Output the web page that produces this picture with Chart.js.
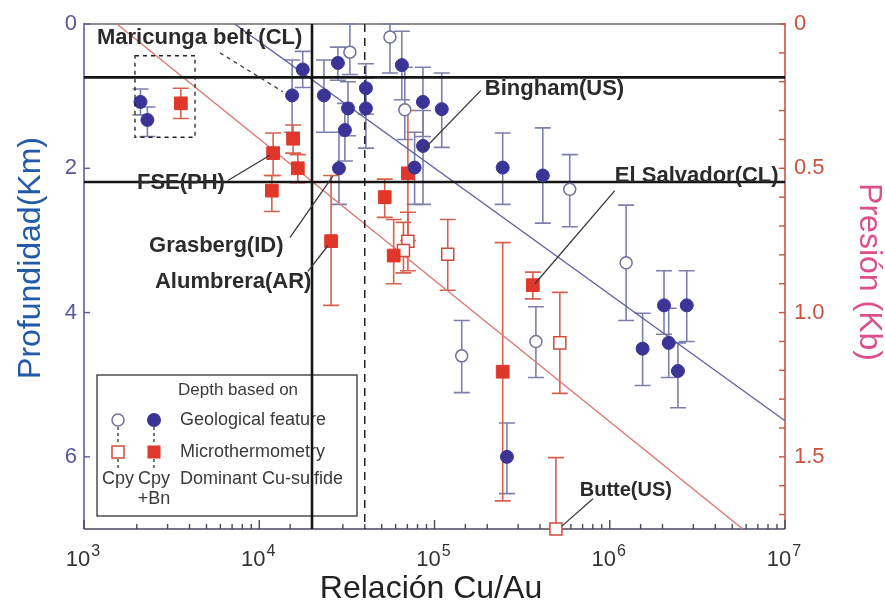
<!DOCTYPE html>
<html><head><meta charset="utf-8">
<script src="https://cdn.jsdelivr.net/npm/chart.js@4.4.1/dist/chart.umd.min.js"></script>
<style>html,body{margin:0;padding:0;background:#fff;}canvas{display:block;}</style>
</head><body>
<canvas id="c" width="885" height="608"></canvas>
<script>
// ---- Data (Relación Cu/Au, profundidad km, error low, error high) ----
const geoBnRatio = [2100, 2300, 17700, 15400, 23400, 28100, 32100, 30800, 28500, 40600, 40600, 65100, 85900, 110000, 86000, 77000, 245000, 415000, 2040000, 2750000, 2170000, 1540000, 2450000, 259000];
const geoBnDepth = [1.08, 1.33, 0.63, 0.99, 0.99, 0.54, 1.17, 1.47, 2.00, 0.89, 1.17, 0.57, 1.08, 1.18, 1.69, 1.99, 1.99, 2.10, 3.90, 3.90, 4.42, 4.50, 4.81, 6.00];
const geoBnLow   = [0.90, 1.15, 0.38, 0.50, 0.50, 0.32, 0.80, 1.10, 1.50, 0.55, 0.75, 0.10, 0.60, 0.68, 1.20, 1.50, 1.51, 1.44, 3.42, 3.42, 3.94, 4.01, 4.42, 5.53];
const geoBnHigh  = [1.26, 1.56, 0.88, 1.50, 1.50, 0.78, 1.55, 1.90, 2.50, 1.25, 1.72, 1.05, 1.56, 1.71, 2.50, 2.50, 2.50, 2.76, 4.30, 4.40, 4.90, 5.01, 5.32, 6.51];

const geoCpyRatio = [32900, 55700, 67700, 591000, 1240000, 143000, 379000];
const geoCpyDepth = [0.39, 0.18, 1.19, 2.29, 3.31, 4.60, 4.40];
const geoCpyLow   = [0.00, 0.00, 0.60, 1.81, 2.51, 4.11, 3.92];
const geoCpyHigh  = [0.70, 0.68, 1.60, 2.81, 4.11, 5.11, 4.90];

const microBnRatio = [3570, 15600, 16600, 12000, 11800, 25700, 52000, 58500, 70500, 364000, 245000];
const microBnDepth = [1.10, 1.59, 2.00, 1.79, 2.31, 3.01, 2.40, 3.21, 2.07, 3.62, 4.82];
const microBnLow   = [0.89, 1.40, 1.81, 1.51, 2.10, 2.10, 2.15, 2.71, 1.20, 3.44, 3.03];
const microBnHigh  = [1.31, 1.79, 2.20, 2.10, 2.60, 3.90, 2.68, 3.60, 3.00, 3.81, 6.61];

const microCpyRatio = [70500, 66500, 119000, 519000, 493000];
const microCpyDepth = [3.01, 3.14, 3.19, 4.42, 7.00];
const microCpyLow   = [2.61, 2.75, 2.71, 3.72, 6.01];
const microCpyHigh  = [3.42, 3.45, 3.69, 5.12, 7.00];

// Trend lines and reference lines
const blueFitRatio = [7240, 10000000];
const blueFitDepth = [0, 5.5];
const redFitRatio = [1540, 5740000];
const redFitDepth = [0, 7];
const refDepths = [0.74, 2.19];
const refSolidRatio = 20000;
const refDashedRatio = 40000;

// Ticks
const ratioTickValues = [1e3, 1e4, 1e5, 1e6, 1e7];
const ratioTickBase = '10';
const ratioTickExponents = ['3', '4', '5', '6', '7'];
const depthTickValues = [0, 2, 4, 6];
const depthTickLabels = ['0', '2', '4', '6'];
const pressureTickValues = [0, 0.1, 0.2, 0.3, 0.4, 0.5, 0.6, 0.7, 0.8, 0.9, 1.0, 1.1, 1.2, 1.3, 1.4, 1.5, 1.6, 1.7];
const pressureLabelValues = [0, 0.5, 1.0, 1.5];
const pressureTickLabels = ['0', '0.5', '1.0', '1.5'];

// Annotations
const noteTexts = ['Maricunga belt (CL)', 'Bingham(US)', 'FSE(PH)', 'Grasberg(ID)', 'Alumbrera(AR)', 'El Salvador(CL)', 'Butte(US)'];
const noteRatio = [1186, 193800, 2005, 2350, 2540, 1069000, 674000];
const noteDepth = [0.19, 0.90, 2.21, 3.07, 3.58, 2.11, 6.47];
const leaderFromRatio = [5970, 184000, 6620, 14960, 18970, 1069000, 802000];
const leaderFromDepth = [0.40, 0.92, 2.17, 2.96, 3.43, 2.31, 6.58];
const leaderToRatio = [13650, 85900, 11500, 26300, 24680, 374000, 533000];
const leaderToDepth = [0.94, 1.75, 1.82, 2.11, 3.07, 3.60, 6.96];
const boxRatio = [1954, 4300];
const boxDepth = [0.44, 1.57];

// ---- helpers ----
const FONT = "'Liberation Sans', Arial, sans-serif";
function pts(xs, ys, lo, hi) { return xs.map((v, i) => ({ x: v, y: ys[i], lo: lo[i], hi: hi[i] })); }
function line(xs, ys) { return xs.map((v, i) => ({ x: v, y: ys[i] })); }

const BLUE = '#3b3496', BLUEBAR = '#7d80ad', RED = '#e1372b', REDBAR = '#d5624f';

const datasets = [
  { label: 'geoBn', data: pts(geoBnRatio, geoBnDepth, geoBnLow, geoBnHigh), pointStyle: 'circle', pointRadius: 6.5, backgroundColor: BLUE, borderColor: BLUE, borderWidth: 1, errorColor: BLUEBAR, order: 1, clip: false },
  { label: 'geoCpy', data: pts(geoCpyRatio, geoCpyDepth, geoCpyLow, geoCpyHigh), pointStyle: 'circle', pointRadius: 6, backgroundColor: '#ffffff', borderColor: '#6f709c', borderWidth: 1.5, errorColor: BLUEBAR, order: 2, clip: false },
  { label: 'microBn', data: pts(microBnRatio, microBnDepth, microBnLow, microBnHigh), pointStyle: 'rect', pointRadius: 9, backgroundColor: RED, borderColor: RED, borderWidth: 1, errorColor: REDBAR, order: 1, clip: false },
  { label: 'microCpy', data: pts(microCpyRatio, microCpyDepth, microCpyLow, microCpyHigh), pointStyle: 'rect', pointRadius: 8.5, backgroundColor: '#ffffff', borderColor: '#cf4c3b', borderWidth: 1.5, errorColor: REDBAR, order: 2, clip: false },
  { label: 'blueFit', data: line(blueFitRatio, blueFitDepth), showLine: true, pointRadius: 0, borderColor: '#5d62a0', borderWidth: 1.4, order: 10 },
  { label: 'redFit', data: line(redFitRatio, redFitDepth), showLine: true, pointRadius: 0, borderColor: '#dc7a72', borderWidth: 1.4, order: 10 },
  { label: 'ref1', data: line([1e3, 1e7], [refDepths[0], refDepths[0]]), showLine: true, pointRadius: 0, borderColor: '#151515', borderWidth: 2.6, order: 9 },
  { label: 'ref2', data: line([1e3, 1e7], [refDepths[1], refDepths[1]]), showLine: true, pointRadius: 0, borderColor: '#151515', borderWidth: 2.6, order: 9 },
  { label: 'ref3', data: line([refSolidRatio, refSolidRatio], [0, 7]), showLine: true, pointRadius: 0, borderColor: '#151515', borderWidth: 2.6, order: 9 },
  { label: 'ref4', data: line([refDashedRatio, refDashedRatio], [0, 7]), showLine: true, pointRadius: 0, borderColor: '#222', borderWidth: 1.5, borderDash: [8, 6], order: 9 }
];

const framePlugin = {
  id: 'frame',
  beforeDatasetsDraw(chart) {
    const { ctx, chartArea: a, scales } = chart;
    const x = scales.x, y = scales.y, y2 = scales.y2;
    ctx.save();
    // legend box (drawn beneath lines)
    const L = a.left;
    ctx.strokeStyle = '#333'; ctx.lineWidth = 1.3;
    ctx.strokeRect(L + 13, 375, 260, 141);
    ctx.fillStyle = '#3a3a3a';
    ctx.font = '17px ' + FONT; ctx.textBaseline = 'middle'; ctx.textAlign = 'left';
    ctx.fillText('Depth based on', L + 94, 390);
    ctx.font = '18px ' + FONT;
    ctx.fillText('Geological feature', L + 96, 420);
    ctx.fillText('Microthermometry', L + 96, 452);
    ctx.fillText('Dominant Cu-sulfide', L + 96, 479);
    ctx.textAlign = 'center';
    ctx.fillText('Cpy', L + 34, 479);
    ctx.fillText('Cpy', L + 70, 479);
    ctx.fillText('+Bn', L + 70, 499);
    ctx.setLineDash([3, 3]); ctx.strokeStyle = '#333'; ctx.lineWidth = 1.3;
    ctx.beginPath(); ctx.moveTo(L + 34, 427); ctx.lineTo(L + 34, 445); ctx.moveTo(L + 70, 427); ctx.lineTo(L + 70, 445);
    ctx.moveTo(L + 34, 459); ctx.lineTo(L + 34, 468); ctx.moveTo(L + 70, 459); ctx.lineTo(L + 70, 468); ctx.stroke();
    ctx.setLineDash([]);
    ctx.fillStyle = '#fff'; ctx.strokeStyle = '#6f709c'; ctx.lineWidth = 1.5;
    ctx.beginPath(); ctx.arc(L + 34, 420, 6, 0, Math.PI * 2); ctx.fill(); ctx.stroke();
    ctx.fillStyle = BLUE; ctx.beginPath(); ctx.arc(L + 70, 420, 7, 0, Math.PI * 2); ctx.fill();
    ctx.fillStyle = '#fff'; ctx.strokeStyle = '#cf4c3b';
    ctx.fillRect(L + 28, 446, 12, 12); ctx.strokeRect(L + 28, 446, 12, 12);
    ctx.fillStyle = RED; ctx.fillRect(L + 63.5, 445.5, 13, 13);

    // frame
    ctx.lineWidth = 1.2; ctx.strokeStyle = '#222';
    ctx.beginPath(); ctx.moveTo(a.left, a.top); ctx.lineTo(a.right, a.top); ctx.stroke();
    ctx.lineWidth = 1.6; ctx.strokeStyle = '#5b5ea4';
    ctx.beginPath(); ctx.moveTo(a.left, a.top - 1); ctx.lineTo(a.left, a.bottom); ctx.stroke();
    ctx.strokeStyle = '#45475f';
    ctx.beginPath(); ctx.moveTo(a.left, a.bottom); ctx.lineTo(a.right, a.bottom); ctx.stroke();
    ctx.strokeStyle = '#c9533f';
    ctx.beginPath(); ctx.moveTo(a.right, a.top - 1); ctx.lineTo(a.right, a.bottom); ctx.stroke();
    // x ticks (inward)
    ctx.strokeStyle = '#45475f'; ctx.lineWidth = 1.4;
    x.ticks.forEach(t => {
      const lg = Math.log10(t.value);
      const major = Math.abs(lg - Math.round(lg)) < 1e-6;
      const px = x.getPixelForValue(t.value);
      ctx.beginPath(); ctx.moveTo(px, a.bottom); ctx.lineTo(px, a.bottom - (major ? 9 : 5)); ctx.stroke();
    });
    ctx.strokeStyle = '#5b5ea4';
    depthTickValues.forEach(v => {
      const py = y.getPixelForValue(v);
      ctx.beginPath(); ctx.moveTo(a.left, py); ctx.lineTo(a.left + 6, py); ctx.stroke();
    });
    ctx.strokeStyle = '#c9533f';
    pressureTickValues.forEach(v => {
      const py = y2.getPixelForValue(v);
      ctx.beginPath(); ctx.moveTo(a.right, py); ctx.lineTo(a.right - 6, py); ctx.stroke();
    });

    // error bars
    ctx.save();
    ctx.beginPath(); ctx.rect(a.left, a.top - 1, a.right - a.left, a.bottom - a.top + 2); ctx.clip();
    chart.data.datasets.forEach(ds => {
      if (!ds.errorColor) return;
      ctx.strokeStyle = ds.errorColor; ctx.lineWidth = 1.6;
      ds.data.forEach(p => {
        const px = x.getPixelForValue(p.x);
        const p1 = y.getPixelForValue(p.lo), p2 = y.getPixelForValue(p.hi);
        ctx.beginPath();
        ctx.moveTo(px, p1); ctx.lineTo(px, p2);
        ctx.moveTo(px - 8, p1); ctx.lineTo(px + 8, p1);
        ctx.moveTo(px - 8, p2); ctx.lineTo(px + 8, p2);
        ctx.stroke();
      });
    });
    ctx.restore();
    ctx.restore();
  },
  afterDatasetsDraw(chart) {
    const { ctx, scales: { x, y } } = chart;
    ctx.save();
    // dashed box
    ctx.setLineDash([4, 4]); ctx.strokeStyle = '#222'; ctx.lineWidth = 1.3;
    const bx1 = x.getPixelForValue(boxRatio[0]), bx2 = x.getPixelForValue(boxRatio[1]);
    const by1 = y.getPixelForValue(boxDepth[0]), by2 = y.getPixelForValue(boxDepth[1]);
    ctx.strokeRect(bx1, by1, bx2 - bx1, by2 - by1);
    // leaders
    noteTexts.forEach((t, i) => {
      ctx.setLineDash(i === 0 ? [4, 4] : []);
      ctx.strokeStyle = '#3a3a3a'; ctx.lineWidth = 1.3;
      ctx.beginPath();
      ctx.moveTo(x.getPixelForValue(leaderFromRatio[i]), y.getPixelForValue(leaderFromDepth[i]));
      ctx.lineTo(x.getPixelForValue(leaderToRatio[i]), y.getPixelForValue(leaderToDepth[i]));
      ctx.stroke();
    });
    ctx.setLineDash([]);
    ctx.fillStyle = '#2b2b2b'; ctx.textAlign = 'left'; ctx.textBaseline = 'middle';
    noteTexts.forEach((t, i) => {
      ctx.font = 'bold ' + (i === 6 ? 20 : 22) + 'px ' + FONT;
      ctx.fillText(t, x.getPixelForValue(noteRatio[i]), y.getPixelForValue(noteDepth[i]));
    });
    ctx.restore();
  },
  afterDraw(chart) {
    const { ctx, chartArea: a, scales: { x } } = chart;
    ctx.save();
    // x tick labels: 10 with superscript exponent
    ctx.fillStyle = '#333'; ctx.textBaseline = 'alphabetic';
    ratioTickValues.forEach((v, i) => {
      const px = x.getPixelForValue(v);
      ctx.font = '22px ' + FONT;
      const wb = ctx.measureText(ratioTickBase).width;
      ctx.font = '16px ' + FONT;
      const we = ctx.measureText(ratioTickExponents[i]).width;
      const left = px - (wb + we + 1) / 2 - 1;
      ctx.font = '22px ' + FONT; ctx.textAlign = 'left';
      ctx.fillText(ratioTickBase, left, 566);
      ctx.font = '16px ' + FONT;
      ctx.fillText(ratioTickExponents[i], left + wb + 1, 556);
    });
    ctx.font = '32px ' + FONT; ctx.textAlign = 'center'; ctx.textBaseline = 'middle';
    ctx.fillStyle = '#222';
    ctx.fillText('Relación Cu/Au', 431, 589);
    ctx.fillStyle = '#2259a8';
    ctx.translate(31, 258); ctx.rotate(-Math.PI / 2); ctx.fillText('Profundidad(Km)', 0, 0);
    ctx.restore();
    ctx.save();
    ctx.font = '32px ' + FONT; ctx.textAlign = 'center'; ctx.textBaseline = 'middle';
    ctx.fillStyle = '#d9508c';
    ctx.translate(869, 272); ctx.rotate(Math.PI / 2); ctx.fillText('Presión (Kb)', 0, 0);
    ctx.restore();
  }
};

new Chart(document.getElementById('c'), {
  type: 'scatter',
  data: { datasets },
  options: {
    responsive: false, animation: false, devicePixelRatio: 1,
    layout: { padding: { top: 24, left: 0, right: 0, bottom: 0 } },
    plugins: { legend: { display: false }, tooltip: { enabled: false } },
    elements: { line: { tension: 0 } },
    scales: {
      x: {
        type: 'logarithmic', min: 1e3, max: 1e7, position: 'bottom',
        grid: { display: false, drawTicks: false }, border: { display: false },
        afterFit: s => { s.height = 79; },
        ticks: { display: false }
      },
      y: {
        type: 'linear', reverse: true, min: 0, max: 7, position: 'left',
        grid: { display: false, drawTicks: false }, border: { display: false },
        afterFit: s => { s.width = 84; },
        afterBuildTicks: s => { s.ticks = depthTickValues.map(v => ({ value: v })); },
        ticks: { autoSkip: false, padding: 7, color: '#55579c', font: { family: FONT, size: 22 },
          callback: v => { const i = depthTickValues.indexOf(v); return i >= 0 ? depthTickLabels[i] : ''; } }
      },
      y2: {
        type: 'linear', reverse: true, min: 0, max: 1.75, position: 'right',
        grid: { display: false, drawTicks: false }, border: { display: false },
        afterFit: s => { s.width = 100; },
        afterBuildTicks: s => { s.ticks = pressureTickValues.map(v => ({ value: v })); },
        ticks: { autoSkip: false, padding: 9, color: '#c9533f', font: { family: FONT, size: 22 },
          callback: v => { const i = pressureLabelValues.findIndex(t => Math.abs(t - v) < 1e-6); return i >= 0 ? pressureTickLabels[i] : ''; } }
      }
    }
  },
  plugins: [framePlugin]
});
</script>
</body></html>
